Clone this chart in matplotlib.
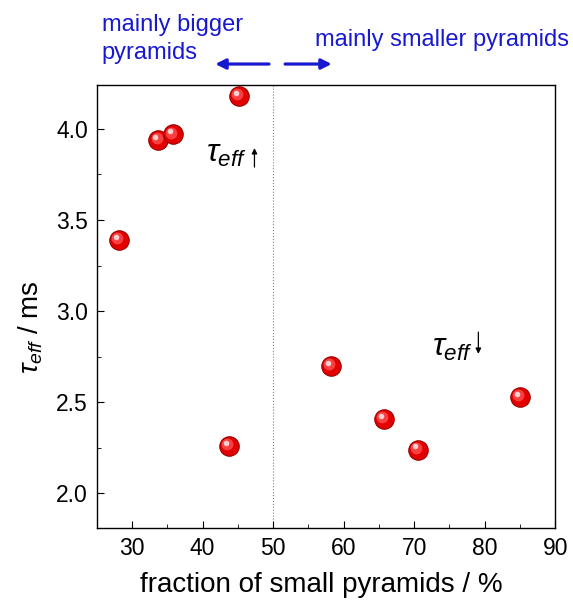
import numpy as np
import matplotlib.pyplot as plt
import matplotlib.transforms as mtransforms
from matplotlib.ticker import MultipleLocator

plt.rcParams['font.family'] = ['Liberation Sans', 'DejaVu Sans']
plt.rcParams['mathtext.fontset'] = 'custom'
plt.rcParams['mathtext.it'] = 'Liberation Sans:italic'
plt.rcParams['mathtext.rm'] = 'Liberation Sans'

frac_small = [28.1, 33.7, 35.8, 45.1, 43.7, 58.2, 65.7, 70.5, 85.0]
tau_eff = [3.39, 3.94, 3.97, 4.18, 2.26, 2.70, 2.41, 2.24, 2.53]

blue = '#1818d0'

fig = plt.figure(figsize=(5.73, 6.04), dpi=100)
ax = fig.add_axes([0.169, 0.126, 0.8, 0.733])

ax.axvline(50, color='grey', lw=0.8, ls=':', zorder=0)

# red spheres: base ball, darker rim, light highlight shifted up-left
ax.plot(frac_small, tau_eff, 'o', ms=14, color='#e30000', mec='#9a0000', mew=0.8, zorder=3)
for dx, dy, ms, c, a in [(-1.2, 1.3, 8.5, '#ff5050', 0.8), (-2.0, 2.2, 4, '#ffd8d8', 0.95)]:
    off = ax.transData + mtransforms.ScaledTranslation(dx / 72, dy / 72, fig.dpi_scale_trans)
    ax.plot(frac_small, tau_eff, 'o', ms=ms, color=c, mec='none', alpha=a,
            transform=off, zorder=4)

ax.set_xlim(25, 90)
ax.set_ylim(1.81, 4.24)
ax.xaxis.set_major_locator(MultipleLocator(10))
ax.xaxis.set_minor_locator(MultipleLocator(5))
ax.yaxis.set_major_locator(MultipleLocator(0.5))
ax.yaxis.set_minor_locator(MultipleLocator(0.25))
ax.yaxis.set_major_formatter(plt.FormatStrFormatter('%.1f'))
ax.tick_params(which='both', direction='in', labelsize=16.5, top=False, right=False)
ax.tick_params(which='major', length=5, pad=6.5)
ax.tick_params(which='minor', length=3)
for s in ax.spines.values():
    s.set_linewidth(1.0)

ax.set_xlabel('fraction of small pyramids / %', fontsize=20)
ax.xaxis.set_label_coords(0.49, -0.1)
ax.set_ylabel(r'$\tau_{eff}$ / ms', fontsize=20)
ax.yaxis.set_label_coords(-0.113, 0.454)

# region labels above the plot
ax.text(25.7, 4.495, 'mainly bigger\npyramids', color=blue, fontsize=17,
        ha='left', va='center', linespacing=1.35, clip_on=False)
ax.text(55.9, 4.49, 'mainly smaller pyramids', color=blue, fontsize=17,
        ha='left', va='center', clip_on=False)
ax.annotate('', xy=(41.4, 4.356), xytext=(49.8, 4.356), annotation_clip=False,
            arrowprops=dict(arrowstyle='-|>', color=blue, lw=2.3, mutation_scale=15))
ax.annotate('', xy=(58.7, 4.356), xytext=(51.3, 4.356), annotation_clip=False,
            arrowprops=dict(arrowstyle='-|>', color=blue, lw=2.3, mutation_scale=15))

# tau_eff trend markers
ax.text(40.5, 3.86, r'$\tau_{eff}$', fontsize=23, ha='left', va='center')
ax.annotate('', xy=(47.35, 3.91), xytext=(47.35, 3.775),
            arrowprops=dict(arrowstyle='-|>', color='black', lw=0.9, mutation_scale=8))
ax.text(72.5, 2.80, r'$\tau_{eff}$', fontsize=23, ha='left', va='center')
ax.annotate('', xy=(79.1, 2.75), xytext=(79.1, 2.90),
            arrowprops=dict(arrowstyle='-|>', color='black', lw=0.9, mutation_scale=8))

fig.savefig('out.png', dpi=100)
